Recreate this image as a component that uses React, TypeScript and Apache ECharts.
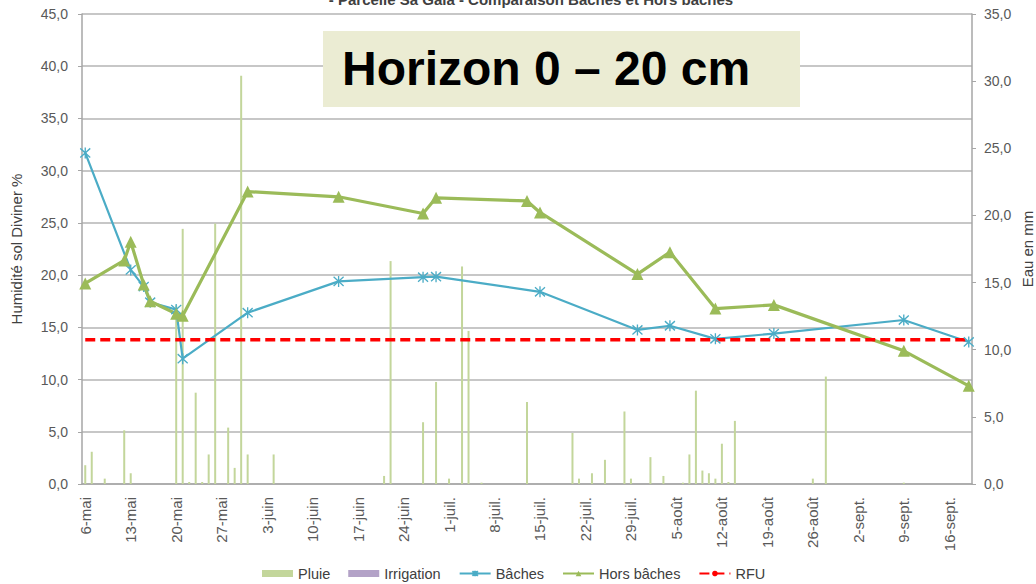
import React, { useEffect, useRef } from "react";
import * as echarts from "echarts";

// X axis: one category per day, 6 May -> 19 Sept
const DAY_COUNT = 137;
const TICK_LABELS = [
  "6-mai", "13-mai", "20-mai", "27-mai", "3-juin", "10-juin", "17-juin", "24-juin",
  "1-juil.", "8-juil.", "15-juil.", "22-juil.", "29-juil.", "5-août", "12-août",
  "19-août", "26-août", "2-sept.", "9-sept.", "16-sept.",
];

// Pluie (mm, right axis): day index since 6 May, value
const PLUIE_DAYS = [0, 1, 3, 6, 7, 14, 15, 16, 17, 18, 19, 20, 22, 23, 24, 25, 29, 46, 47, 52, 54, 56, 58, 59, 61, 68, 75, 76, 78, 80, 83, 84, 87, 89, 92, 93, 94, 95, 96, 97, 98, 99, 100, 112, 114, 126];
const PLUIE_MM = [1.4, 2.4, 0.4, 4.0, 0.8, 13.3, 19.0, 0.15, 6.8, 0.15, 2.2, 19.4, 4.2, 1.2, 30.4, 2.2, 2.2, 0.6, 16.6, 4.6, 7.6, 0.4, 16.2, 11.4, 0.1, 6.1, 3.8, 0.4, 0.8, 1.8, 5.4, 0.4, 2.0, 0.6, 0.1, 2.2, 6.95, 1.0, 0.8, 0.4, 3.0, 0.15, 4.7, 0.4, 8.0, 0.1];

// Irrigation: none visible
const IRRIGATION_DAYS: number[] = [];
const IRRIGATION_MM: number[] = [];

// Bâches (% humidity, left axis)
const BACHES_DAYS = [0, 7, 9, 10, 14, 15, 25, 39, 52, 54, 70, 85, 90, 97, 106, 126, 136];
const BACHES_VAL = [31.7, 20.5, 18.9, 17.4, 16.7, 12.0, 16.4, 19.4, 19.8, 19.85, 18.4, 14.75, 15.15, 13.9, 14.4, 15.7, 13.6];

// Hors bâches (% humidity, left axis)
const HORS_DAYS = [0, 6, 7, 9, 10, 14, 15, 25, 39, 52, 54, 68, 70, 85, 90, 97, 106, 126, 136];
const HORS_VAL = [19.2, 21.4, 23.2, 19.1, 17.5, 16.3, 16.1, 28.0, 27.5, 25.9, 27.4, 27.1, 26.0, 20.1, 22.2, 16.8, 17.15, 12.75, 9.4];

// RFU (left axis)
const RFU_DAYS = [0, 136];
const RFU_VAL = [13.8, 13.8];

const FONT = "'Liberation Sans', Arial, sans-serif";
const zip = (d: number[], v: number[]) => d.map((x, i) => [x, v[i]]);
const fmt = (v: number) => v.toFixed(1).replace(".", ",");
const ASTERISK = "path://M0,1L10,11M10,1L0,11M5,0L5,12";

export default function App() {
  const ref = useRef<HTMLDivElement>(null);
  useEffect(() => {
    document.body.style.margin = "0";
    if (!ref.current) return;
    const chart = echarts.init(ref.current, null, { renderer: "svg" });
    const days = Array.from({ length: DAY_COUNT }, (_, i) => String(i));
    const weekly = (i: number) => i % 7 === 0;
    chart.setOption({
      animation: false,
      backgroundColor: "#ffffff",
      textStyle: { fontFamily: FONT },
      grid: { left: 82, right: 64, top: 14, bottom: 100, containLabel: false, outerBoundsMode: "none" },
      legend: {
        left: 257,
        top: 561,
        padding: 5,
        itemWidth: 31,
        itemHeight: 7,
        itemGap: 18,
        textStyle: { fontSize: 14.5, color: "#404040", fontFamily: FONT },
        data: [
          { name: "Pluie", icon: "rect" },
          { name: "Irrigation", icon: "rect" },
          { name: "Bâches" },
          { name: "Hors bâches" },
          { name: "RFU" },
        ],
      },
      xAxis: {
        type: "category",
        data: days,
        boundaryGap: true,
        offset: 4,
        axisLine: { lineStyle: { color: "#a6a6a6", width: 1.5 } },
        axisTick: { alignWithLabel: true, interval: weekly, length: 4, lineStyle: { color: "#a6a6a6" } },
        axisLabel: {
          interval: weekly,
          rotate: 90,
          margin: 9,
          fontSize: 15,
          color: "#595959",
          fontFamily: FONT,
          formatter: (v: string) => TICK_LABELS[Number(v) / 7] ?? "",
        },
        splitLine: { show: false },
      },
      yAxis: [
        {
          type: "value",
          position: "left",
          min: 0,
          max: 45,
          interval: 5,
          name: "Humidité sol Diviner %",
          nameLocation: "middle",
          nameGap: 58,
          nameMoveOverlap: false,
          nameRotate: 90,
          nameTextStyle: { fontSize: 15, color: "#404040", fontFamily: FONT },
          axisLine: { show: true, lineStyle: { color: "#a6a6a6", width: 1.5 } },
          axisTick: { show: true, length: 4, lineStyle: { color: "#a6a6a6" } },
          axisLabel: { formatter: fmt, fontSize: 14, color: "#595959", margin: 14, fontFamily: FONT },
          splitLine: { show: true, lineStyle: { color: "#b4b4b4", width: 1.5 } },
        },
        {
          type: "value",
          position: "right",
          min: 0,
          max: 35,
          interval: 5,
          name: "Eau en mm",
          nameLocation: "middle",
          nameGap: 48,
          nameMoveOverlap: false,
          nameRotate: 90,
          nameTextStyle: { fontSize: 15, color: "#404040", fontFamily: FONT },
          axisLine: { show: true, lineStyle: { color: "#a6a6a6", width: 1.5 } },
          axisTick: { show: true, length: 4, lineStyle: { color: "#a6a6a6" } },
          axisLabel: { formatter: fmt, fontSize: 14, color: "#595959", margin: 12, fontFamily: FONT },
          splitLine: { show: false },
        },
      ],
      series: [
        {
          name: "Pluie",
          type: "bar",
          yAxisIndex: 1,
          barWidth: 2,
          barGap: "-100%",
          itemStyle: { color: "#c3d69b" },
          data: zip(PLUIE_DAYS, PLUIE_MM),
        },
        {
          name: "Irrigation",
          type: "bar",
          yAxisIndex: 1,
          barWidth: 2,
          barGap: "-100%",
          itemStyle: { color: "#b3a2c7" },
          data: zip(IRRIGATION_DAYS, IRRIGATION_MM),
        },
        {
          name: "Bâches",
          type: "line",
          yAxisIndex: 0,
          color: "#4bacc6",
          lineStyle: { color: "#4bacc6", width: 2.2 },
          symbol: ASTERISK,
          symbolSize: [10, 11],
          showAllSymbol: true,
          itemStyle: { color: "#4bacc6", borderColor: "#4bacc6", borderWidth: 1.4 },
          data: zip(BACHES_DAYS, BACHES_VAL),
        },
        {
          name: "Hors bâches",
          type: "line",
          yAxisIndex: 0,
          color: "#9bbb59",
          lineStyle: { color: "#9bbb59", width: 3.2 },
          symbol: "triangle",
          symbolSize: 12,
          showAllSymbol: true,
          itemStyle: { color: "#9bbb59" },
          data: zip(HORS_DAYS, HORS_VAL),
        },
        {
          name: "RFU",
          type: "line",
          yAxisIndex: 0,
          color: "#ff0000",
          lineStyle: { color: "#ff0000", width: 3.5, type: [10, 5] },
          symbol: "none",
          data: zip(RFU_DAYS, RFU_VAL),
        },
      ],
      graphic: [
        {
          type: "text",
          z: 100,
          x: 531,
          y: -8,
          style: {
            text: "- Parcelle Sa Gaia - Comparaison Bâches et Hors bâches",
            fontSize: 15,
            fontWeight: "bold",
            fontFamily: FONT,
            fill: "#404040",
            textAlign: "center",
            textVerticalAlign: "top",
          },
        },
        {
          type: "rect",
          z: 100,
          shape: { x: 323, y: 31, width: 477, height: 76 },
          style: { fill: "#ebecd3" },
        },
        {
          type: "text",
          z: 101,
          x: 342,
          y: 68,
          style: {
            text: "Horizon 0 – 20 cm",
            fontSize: 48,
            fontWeight: "bold",
            fontFamily: FONT,
            fill: "#000000",
            textAlign: "left",
            textVerticalAlign: "middle",
          },
        },
      ],
    });
    return () => chart.dispose();
  }, []);
  return <div ref={ref} style={{ width: 1036, height: 584 }} />;
}
